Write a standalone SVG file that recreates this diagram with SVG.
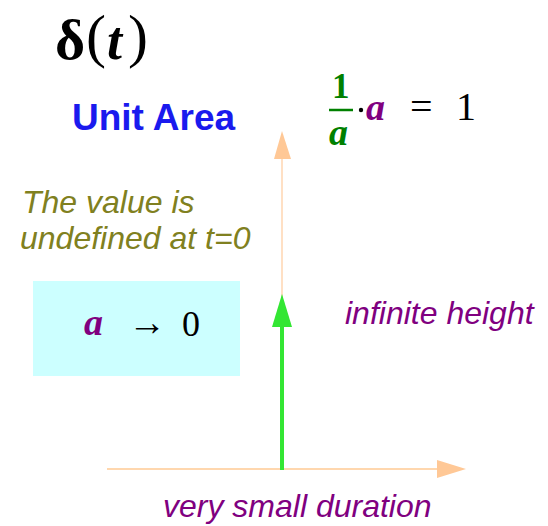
<svg xmlns="http://www.w3.org/2000/svg" width="548" height="526" viewBox="0 0 548 526">
<style>
.serif{font-family:"Liberation Serif","Times New Roman",serif}
.sans{font-family:"Liberation Sans",Arial,sans-serif}
.purple{fill:#800080}
.olive{fill:#808020}
.lbl{font-style:italic;font-size:32px}
</style>
<rect width="548" height="526" fill="#ffffff"/>
<g id="axes">
<line x1="107" y1="469" x2="438" y2="469" stroke="#ffd7ae" stroke-width="2"/>
<path d="M437,460 L466,469 L437,478 Z" fill="#ffc896"/>
<line x1="282" y1="468" x2="282" y2="158" stroke="#ffe0c4" stroke-width="2"/>
<path d="M274,159 L282,131 L291,159 Z" fill="#ffc896"/>
</g>
<g id="pulse">
<line x1="282" y1="470" x2="282" y2="324" stroke="#33e633" stroke-width="4"/>
<path d="M272,327 L282,294 L292,327 Z" fill="#33e633"/>
</g>
<g id="title">
<text class="serif" x="55" y="59" font-size="58" font-weight="bold">δ</text>
<text class="serif" x="86" y="56" font-size="60">(</text>
<text class="serif" x="107" y="59" font-size="54" font-weight="bold" font-style="italic">t</text>
<text class="serif" x="128" y="56" font-size="60">)</text>
</g>
<g id="unit-area">
<text class="sans" x="72" y="130" font-size="37" font-weight="bold" fill="#1a1aee">Unit Area</text>
</g>
<g id="equation">
<text class="serif" x="332" y="98" font-size="35" font-weight="bold" fill="#008000">1</text>
<line x1="329" y1="110" x2="353" y2="110" stroke="#008000" stroke-width="2.5"/>
<text class="serif" x="329" y="145" font-size="38" font-weight="bold" font-style="italic" fill="#008000">a</text>
<circle cx="361" cy="110" r="2.2" fill="#000"/>
<text class="serif purple" x="366" y="120" font-size="38" font-weight="bold" font-style="italic">a</text>
<text class="serif" x="410" y="120" font-size="40">=</text>
<text class="serif" x="456" y="120" font-size="40">1</text>
</g>
<g id="undefined-note">
<text class="sans olive lbl" x="22" y="213">The value is</text>
<text class="sans olive lbl" x="20" y="249">undefined at t=0</text>
</g>
<g id="limit-box">
<rect x="33" y="281" width="207" height="95" fill="#ccffff"/>
<text class="serif purple" x="84" y="335" font-size="38" font-weight="bold" font-style="italic">a</text>
<text class="serif" x="128" y="335" font-size="38">→</text>
<text class="serif" x="182" y="336" font-size="36">0</text>
</g>
<g id="height-label">
<text class="sans purple lbl" x="345" y="324">infinite height</text>
</g>
<g id="duration-label">
<text class="sans purple lbl" x="163" y="517" font-size="33">very small duration</text>
</g>
</svg>
